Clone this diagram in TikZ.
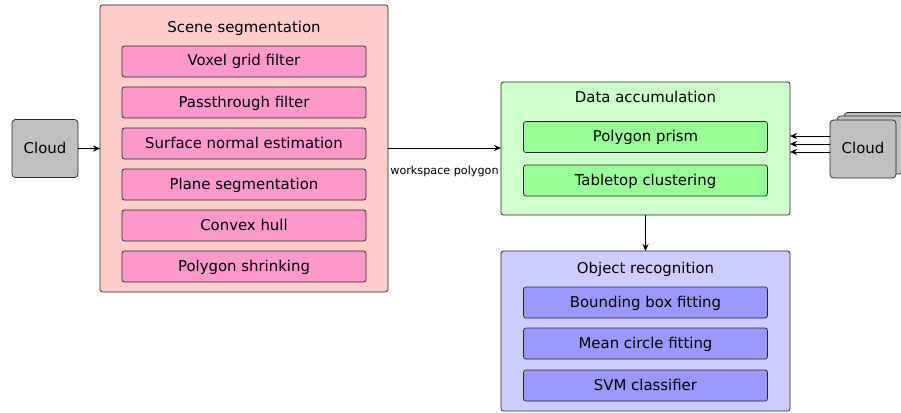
\documentclass[tikz,border=0pt]{standalone}
\usepackage{fontspec}
\setmainfont{DejaVu Sans}
\usetikzlibrary{arrows.meta}
\definecolor{scenebg}{HTML}{FFCCCC}
\definecolor{scenein}{HTML}{FF99CC}
\definecolor{accbg}{HTML}{CCFFCC}
\definecolor{accin}{HTML}{99FF99}
\definecolor{objbg}{HTML}{CCCCFF}
\definecolor{objin}{HTML}{9999FF}
\definecolor{cloudc}{HTML}{C0C0C0}
\tikzset{
  box/.style={draw=black!85, line width=0.7pt, rounded corners=2.5pt},
  outer/.style={box},
  inner/.style={box, minimum width=244pt, minimum height=31pt, font=\fontsize{14.9}{17}\selectfont, inner sep=0pt, text height=12pt, text depth=3pt},
  cloudbox/.style={box, rounded corners=3.5pt, fill=cloudc, minimum width=66pt, minimum height=58pt, font=\fontsize{14.9}{17}\selectfont, inner sep=0pt, text height=12pt, text depth=3pt},
  title/.style={font=\fontsize{14.9}{17}\selectfont, text height=12pt, text depth=3pt},
  conn/.style={-{Stealth[length=7pt,width=6pt]}, line width=0.7pt},
}
\begin{document}
\begin{tikzpicture}[x=1pt,y=-1pt]
\useasboundingbox (0,0) rectangle (901,412);
% left cloud
\node[cloudbox] (c1) at (45,148.5) {Cloud};
% scene segmentation
\draw[outer, fill=scenebg] (100,5) rectangle (388,292);
\coordinate (sceneE) at (388,148);
\coordinate (sceneW) at (100,148);
\node[title] (st) at (244,28) {Scene segmentation};
\node[inner, fill=scenein] (s1) at (244,61.5) {Voxel grid filter};
\node[inner, fill=scenein] (s2) at (244,102.5) {Passthrough filter};
\node[inner, fill=scenein] (s3) at (244,143.5) {Surface normal estimation};
\node[inner, fill=scenein] (s4) at (244,184.5) {Plane segmentation};
\node[inner, fill=scenein] (s5) at (244,225.5) {Convex hull};
\node[inner, fill=scenein] (s6) at (244,266.5) {Polygon shrinking};
% data accumulation
\draw[outer, fill=accbg] (501,82) rectangle (790,215);
\coordinate (accW) at (501,148);
\coordinate (accS) at (645.5,215);
\node[title] (at) at (645.5,98) {Data accumulation};
\node[inner, fill=accin] (a1) at (645.5,137) {Polygon prism};
\node[inner, fill=accin] (a2) at (645.5,180.5) {Tabletop clustering};
% object recognition
\draw[outer, fill=objbg] (501,251) rectangle (790,411);
\coordinate (objN) at (645.5,251);
\node[title] (ot) at (645.5,269) {Object recognition};
\node[inner, fill=objin] (o1) at (645.5,302.5) {Bounding box fitting};
\node[inner, fill=objin] (o2) at (645.5,343.5) {Mean circle fitting};
\node[inner, fill=objin] (o3) at (645.5,385.5) {SVM classifier};
% right cloud stack
\node[cloudbox] (c4) at (877,141.5) {};
\node[cloudbox] (c3) at (870,145) {};
\node[cloudbox] (c2) at (863,149) {Cloud};
% connectors
\draw[conn] (c1.east) -- (c1.east -| sceneW);
\draw[conn] (sceneE) -- node[below=14pt, font=\fontsize{11.2}{13}\selectfont] {workspace polygon} (accW);
\draw[conn] (accS) -- (objN);
\draw[conn] (c2.west |- 0,136) -- (790,136);
\draw[conn] (c2.west |- 0,144) -- (790,144);
\draw[conn] (c2.west |- 0,152) -- (790,152);
\end{tikzpicture}
\end{document}
